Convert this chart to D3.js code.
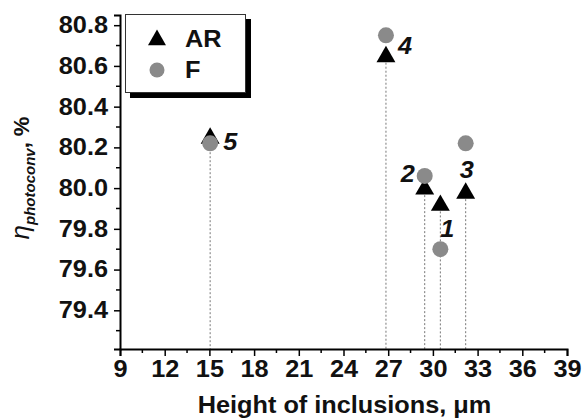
<!DOCTYPE html>
<html>
<head>
<meta charset="UTF-8">
<script src="https://d3js.org/d3.v7.min.js"></script>
<style>
  body { margin: 0; background: #fff; }
  text { font-family: "Liberation Sans", Arial, sans-serif; font-weight: bold; }
</style>
</head>
<body>
<div id="chart"></div>
<script>
// sample numbers and their data
var sampleLabels = ["1", "2", "3", "4", "5"];
var heights = [30.5, 29.45, 32.2, 26.85, 15.05];      // um
var arValues = [79.92, 80.00, 79.98, 80.65, 80.25];  // AR, %
var fValues = [79.70, 80.06, 80.22, 80.75, 80.22];   // F, %
var xTicks = [9, 12, 15, 18, 21, 24, 27, 30, 33, 36, 39];
var yTicks = [79.4, 79.6, 79.8, 80.0, 80.2, 80.4, 80.6, 80.8];

var width = 582, height = 420;
var fs = 23, sx = 1.1; // font size, horizontal stretch of the bold text
var svg = d3.select("#chart").append("svg")
  .attr("width", width).attr("height", height);

var x = d3.scaleLinear().domain([9, 39]).range([120, 567]);
var y = d3.scaleLinear().domain([79.21, 80.85]).range([349, 15]);

function label(px, py, str) {
  return svg.append("text")
    .attr("transform", "translate(" + px + "," + py + ") scale(" + sx + ",1)")
    .attr("font-size", fs)
    .attr("fill", "#111")
    .text(str);
}

// dotted drop lines from AR point to axis
svg.selectAll(".drop")
  .data(heights)
  .enter().append("line")
    .attr("x1", function(d) { return x(d); })
    .attr("x2", function(d) { return x(d); })
    .attr("y1", function(d, i) { return y(arValues[i]) + 7; })
    .attr("y2", y.range()[0])
    .attr("stroke", "#777")
    .attr("stroke-width", 1)
    .attr("stroke-dasharray", "2,2");

// axes
var xAxis = svg.append("g")
  .attr("transform", "translate(0," + y.range()[0] + ")")
  .call(d3.axisBottom(x).tickValues(xTicks).tickSize(7).tickPadding(5).tickFormat(d3.format("d")));
var xMinor = d3.range(10.5, 39, 3);
xAxis.selectAll(".minor").data(xMinor).enter().append("line")
  .attr("x1", function(d) { return x(d); }).attr("x2", function(d) { return x(d); })
  .attr("y1", 0).attr("y2", 4).attr("stroke", "#000").attr("stroke-width", 1.5);

var yAxis = svg.append("g")
  .attr("transform", "translate(" + x.range()[0] + ",0)")
  .call(d3.axisLeft(y).tickValues(yTicks).tickSize(6).tickPadding(6).tickFormat(d3.format(".1f")));
var yMinor = [79.3, 79.5, 79.7, 79.9, 80.1, 80.3, 80.5, 80.7];
yAxis.selectAll(".minor").data(yMinor).enter().append("line")
  .attr("x1", 0).attr("x2", -4)
  .attr("y1", function(d) { return y(d); }).attr("y2", function(d) { return y(d); })
  .attr("stroke", "#000").attr("stroke-width", 1.5);

svg.selectAll(".domain").attr("stroke-width", 2).attr("stroke", "#000");
svg.selectAll(".tick line").attr("stroke-width", 1.5);
svg.selectAll(".tick text")
  .attr("font-size", fs)
  .attr("font-family", "Liberation Sans, Arial, sans-serif")
  .attr("font-weight", "bold")
  .attr("fill", "#111")
  .attr("transform", "scale(" + sx + ",1)");
yAxis.selectAll(".tick text").attr("x", -12 / sx);

// AR triangles
var tri = d3.symbol().type(d3.symbolTriangle).size(155);
svg.selectAll(".ar")
  .data(heights)
  .enter().append("path")
    .attr("d", tri)
    .attr("transform", function(d, i) { return "translate(" + x(d) + "," + (y(arValues[i]) + 1) + ")"; })
    .attr("fill", "#000");

// F circles
svg.selectAll(".f")
  .data(heights)
  .enter().append("circle")
    .attr("cx", function(d) { return x(d); })
    .attr("cy", function(d, i) { return y(fValues[i]); })
    .attr("r", 8)
    .attr("fill", "#8a8a8a");

// sample number labels
var labelPos = {
  "1": { ref: "f", dx: 0, dy: -12, anchor: "start" },
  "2": { ref: "f", dx: -10, dy: 6, anchor: "end" },
  "3": { ref: "ar", dx: 1, dy: -14, anchor: "middle" },
  "4": { ref: "ar", dx: 12, dy: -2, anchor: "start" },
  "5": { ref: "f", dx: 13, dy: 7, anchor: "start" }
};
sampleLabels.forEach(function(d, i) {
  var p = labelPos[d];
  var v = p.ref === "ar" ? arValues[i] : fValues[i];
  label(x(heights[i]) + p.dx, y(v) + p.dy, d)
    .attr("text-anchor", p.anchor)
    .attr("font-style", "italic");
});

// legend
var lg = svg.append("g");
lg.append("rect").attr("x", 130).attr("y", 19).attr("width", 121).attr("height", 79).attr("fill", "#000");
lg.append("rect").attr("x", 125.5).attr("y", 14.5).attr("width", 120).attr("height", 78)
  .attr("fill", "#fff").attr("stroke", "#333").attr("stroke-width", 1);
lg.append("path").attr("d", d3.symbol().type(d3.symbolTriangle).size(140))
  .attr("transform", "translate(157,40)").attr("fill", "#000");
lg.append("circle").attr("cx", 157).attr("cy", 70).attr("r", 7.5).attr("fill", "#8a8a8a");
label(185, 47, "AR");
label(185, 78, "F");

// axis titles
label((x.range()[0] + x.range()[1]) / 2 + 1, 413, "Height of inclusions, \u03bcm")
  .attr("text-anchor", "middle");

var yl = svg.append("text")
  .attr("transform", "translate(29,178) rotate(-90)")
  .attr("text-anchor", "middle")
  .attr("font-size", 22)
  .attr("fill", "#111");
yl.append("tspan").attr("font-style", "italic").attr("font-weight", "normal").attr("font-size", 26).text("\u03b7");
yl.append("tspan").attr("font-style", "italic").attr("font-size", 15).attr("dy", 6).text("photoconv");
yl.append("tspan").attr("dy", -6).text(", %");
</script>
</body>
</html>
